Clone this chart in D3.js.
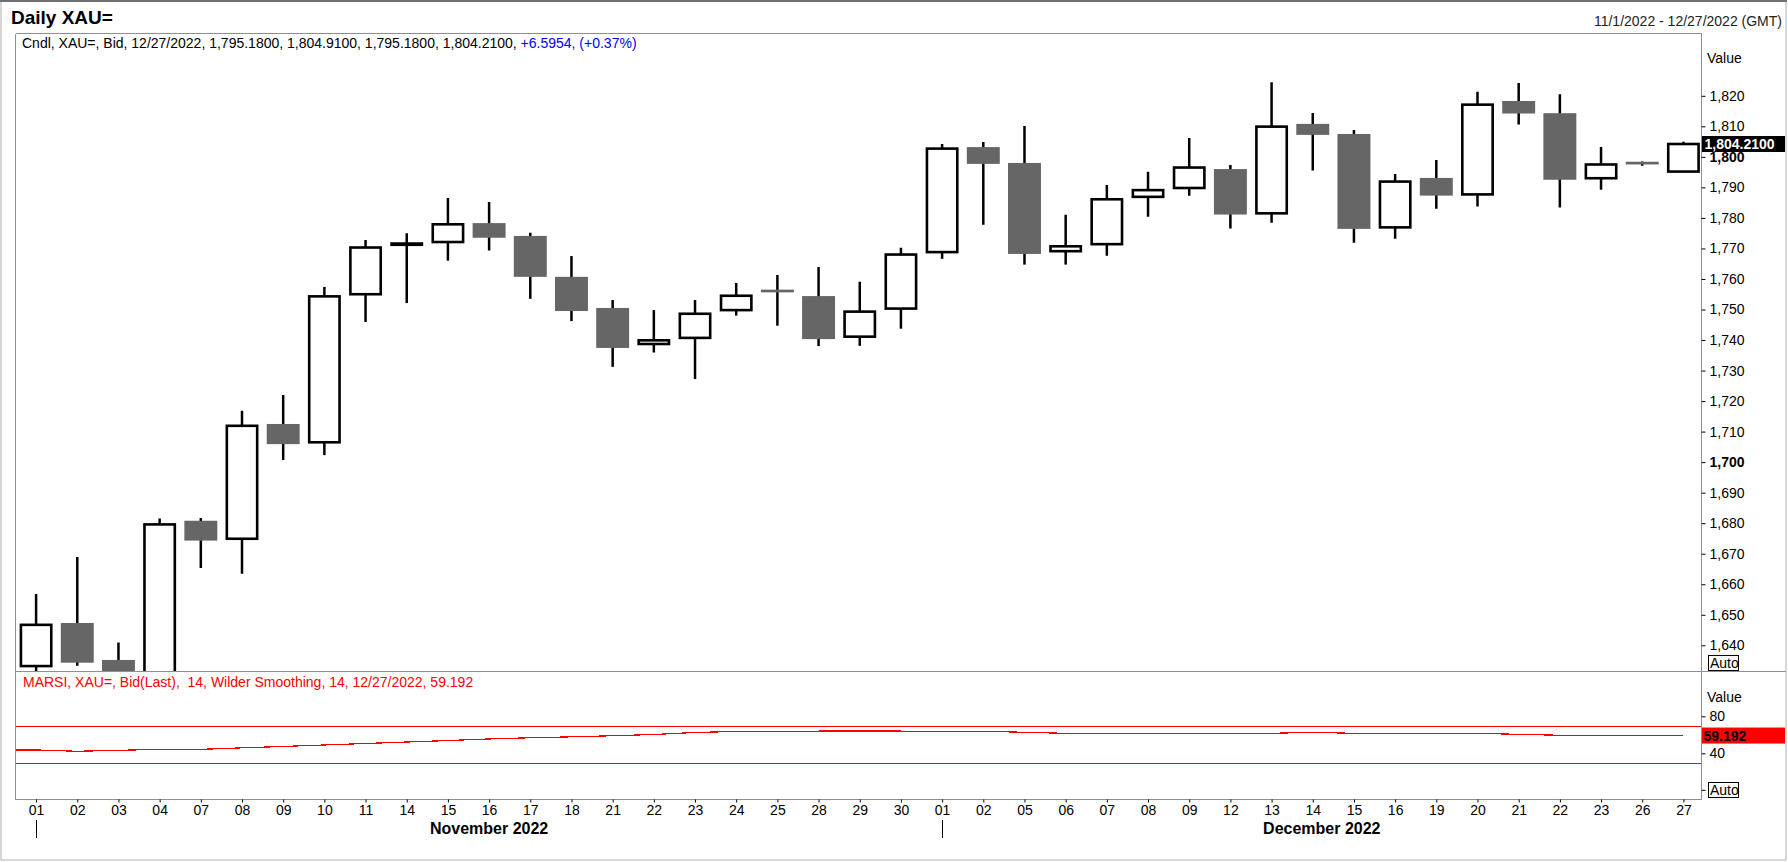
<!DOCTYPE html>
<html>
<head>
<meta charset="utf-8">
<script src="https://cdn.jsdelivr.net/npm/d3@7"></script>
<style>
  body { margin: 0; background: #fff; }
  text { font-family: "Liberation Sans", Arial, sans-serif; }
</style>
</head>
<body>
<div id="chart"></div>
<script>
// trading days shown on the chart
const dates = [
  "2022-11-01","2022-11-02","2022-11-03","2022-11-04","2022-11-07","2022-11-08","2022-11-09","2022-11-10",
  "2022-11-11","2022-11-14","2022-11-15","2022-11-16","2022-11-17","2022-11-18","2022-11-21","2022-11-22",
  "2022-11-23","2022-11-24","2022-11-25","2022-11-28","2022-11-29","2022-11-30",
  "2022-12-01","2022-12-02","2022-12-05","2022-12-06","2022-12-07","2022-12-08","2022-12-09","2022-12-12",
  "2022-12-13","2022-12-14","2022-12-15","2022-12-16","2022-12-19","2022-12-20","2022-12-21","2022-12-22",
  "2022-12-23","2022-12-26","2022-12-27"
];
const opens = [
  1633.2, 1647.3, 1635.2, 1629.8, 1680.8, 1674.9, 1712.5, 1706.5, 1755.0, 1771.2, 1772.1,
  1778.3, 1774.1, 1760.7, 1750.5, 1738.7, 1740.7, 1749.8, 1756.5, 1754.4, 1741.1, 1750.3,
  1768.8, 1803.2, 1798.0, 1769.1, 1771.4, 1786.9, 1789.8, 1796.0, 1781.5, 1810.8, 1807.5,
  1776.9, 1793.1, 1787.7, 1818.3, 1814.3, 1793.0, 1798.4, 1795.18
];
const highs = [
  1656.8, 1668.9, 1640.9, 1681.5, 1681.7, 1716.8, 1722.0, 1757.4, 1772.8, 1775.0, 1786.5,
  1785.2, 1775.1, 1767.5, 1753.1, 1749.8, 1753.1, 1758.7, 1761.3, 1763.9, 1759.1, 1770.2,
  1804.2, 1804.9, 1810.1, 1781.0, 1790.8, 1795.1, 1806.2, 1797.3, 1824.4, 1814.4, 1808.8,
  1794.4, 1799.0, 1821.3, 1824.2, 1820.5, 1803.2, 1798.5, 1804.91
];
const lows = [
  1630.0, 1633.3, 1616.7, 1627.6, 1665.3, 1663.4, 1700.7, 1702.3, 1745.9, 1752.1, 1766.0,
  1769.3, 1753.5, 1746.2, 1731.2, 1735.9, 1727.2, 1748.0, 1744.7, 1738.0, 1738.1, 1743.7,
  1766.6, 1777.8, 1764.7, 1764.7, 1767.6, 1780.4, 1787.3, 1776.5, 1778.4, 1795.5, 1771.9,
  1773.2, 1783.0, 1783.7, 1810.6, 1783.4, 1789.2, 1797.1, 1795.18
];
const closes = [
  1646.7, 1634.3, 1629.7, 1679.6, 1674.3, 1711.9, 1705.9, 1754.3, 1770.3, 1771.6, 1777.9,
  1773.5, 1760.7, 1749.5, 1737.4, 1739.9, 1748.6, 1754.5, 1756.1, 1740.3, 1749.3, 1768.0,
  1802.7, 1797.7, 1768.2, 1770.7, 1786.1, 1789.1, 1796.5, 1781.1, 1809.9, 1807.2, 1776.4,
  1791.9, 1787.3, 1817.1, 1814.2, 1792.5, 1797.5, 1798.1, 1804.21
];
// RSI, first value is 10/31 (the session just before the window)
const rsiValues = [
  43.6,
  43.6, 42.2, 43.2, 44.3, 44.3, 45.9, 47.4, 49.0, 50.6, 52.2, 53.8,
  55.5, 56.8, 57.8, 59.0, 60.3, 62.5, 63.6, 63.9, 64.0, 64.1, 64.0,
  63.9, 63.8, 62.7, 61.6, 61.6, 61.6, 61.6, 61.7, 61.6, 62.7, 61.6,
  61.5, 61.6, 61.6, 60.5, 59.5, 59.4, 59.4, 59.192
];
const rsiBands = [70, 30];
const priceTicks = [1640, 1650, 1660, 1670, 1680, 1690, 1700, 1710, 1720, 1730, 1740,
                    1750, 1760, 1770, 1780, 1790, 1800, 1810, 1820];
const rsiTicks = [80, 40];
const lastPrice = 1804.21;
const lastRsi = 59.192;

const width = 1788, height = 862;
const plot = { left: 15.5, top: 33.5, right: 1701.5, split: 671.5, bottom: 799.5 };
const frameColor = "#8e8e9a";

const svg = d3.select("#chart").append("svg")
  .attr("width", width)
  .attr("height", height);

const parse = d3.timeParse("%Y-%m-%d");
const days = dates.map(parse);

// index based x scale so the RSI can start one session earlier
const x = d3.scaleLinear()
  .domain([-0.5, dates.length - 0.5])
  .range([plot.left, plot.right + 2.5]);
const step = x(1) - x(0);
const bodyW = step * 0.8;

const y = d3.scaleLinear().domain([1640, 1820]).range([645.3, 95.8]);
const yR = d3.scaleLinear().domain([0, 80]).range([790.3, 716.3]);

// outer border
svg.append("rect")
  .attr("x", 1).attr("y", 1).attr("width", 1785).attr("height", 859)
  .attr("fill", "none").attr("stroke", "#b0b0b0");
svg.append("line")
  .attr("x1", 0).attr("x2", 1787).attr("y1", 1).attr("y2", 1)
  .attr("stroke", "#707070").attr("stroke-width", 2);

// title + period
svg.append("text")
  .attr("x", 11).attr("y", 24)
  .attr("font-size", "19px").attr("font-weight", "bold")
  .text("Daily XAU=");
svg.append("text")
  .attr("x", 1782).attr("y", 26)
  .attr("text-anchor", "end")
  .attr("font-size", "14px")
  .attr("fill", "#222")
  .text("11/1/2022 - 12/27/2022 (GMT)");

// clip paths
const defs = svg.append("defs");
defs.append("clipPath").attr("id", "clipMain").append("rect")
  .attr("x", plot.left).attr("y", plot.top)
  .attr("width", plot.right - plot.left).attr("height", plot.split - plot.top);
defs.append("clipPath").attr("id", "clipRsi").append("rect")
  .attr("x", plot.left).attr("y", plot.split)
  .attr("width", plot.right - plot.left).attr("height", plot.bottom - plot.split);

// candles
const candles = d3.range(dates.length).map(i => ({
  i: i, o: opens[i], h: highs[i], l: lows[i], c: closes[i]
}));

const main = svg.append("g").attr("clip-path", "url(#clipMain)");

main.selectAll(".wick")
  .data(candles)
  .enter()
  .append("line")
  .attr("x1", d => x(d.i)).attr("x2", d => x(d.i))
  .attr("y1", d => y(d.h)).attr("y2", d => y(d.l))
  .attr("stroke", "#000")
  .attr("stroke-width", 2.5);

// down days: solid grey body
main.selectAll(".down")
  .data(candles.filter(d => d.c < d.o))
  .enter()
  .append("rect")
  .attr("x", d => x(d.i) - bodyW / 2)
  .attr("width", bodyW)
  .attr("y", d => y(d.o))
  .attr("height", d => Math.max(2.7, y(d.c) - y(d.o)))
  .attr("fill", "#666666");

// up days: hollow body
const sw = 2.6;
main.selectAll(".up")
  .data(candles.filter(d => d.c >= d.o))
  .enter()
  .append("rect")
  .attr("x", d => x(d.i) - bodyW / 2 + sw / 2)
  .attr("width", bodyW - sw)
  .attr("y", d => y(d.c))
  .attr("height", d => y(d.o) - y(d.c))
  .attr("fill", "#fff")
  .attr("stroke", "#000")
  .attr("stroke-width", sw);

// RSI pane
const rsi = svg.append("g").attr("clip-path", "url(#clipRsi)");
rsi.selectAll(".band")
  .data(rsiBands)
  .enter()
  .append("line")
  .attr("x1", plot.left).attr("x2", plot.right)
  .attr("y1", d => Math.round(yR(d)) + 0.5).attr("y2", d => Math.round(yR(d)) + 0.5)
  .attr("stroke", "#ff0000")
  .attr("stroke-width", 1.2);

const rsiLine = d3.line()
  .x((d, i) => x(i - 1))
  .y(d => yR(d));
rsi.append("path")
  .datum(rsiValues)
  .attr("d", rsiLine)
  .attr("fill", "none")
  .attr("stroke", "#ff0000")
  .attr("stroke-width", 1.2)
  .attr("shape-rendering", "crispEdges");

// frame
const frame = svg.append("g")
  .attr("stroke", frameColor)
  .attr("shape-rendering", "crispEdges");
frame.append("line").attr("x1", plot.left).attr("x2", plot.right).attr("y1", plot.top).attr("y2", plot.top);
frame.append("line").attr("x1", plot.left).attr("x2", plot.left).attr("y1", plot.top).attr("y2", plot.bottom);
frame.append("line").attr("x1", plot.right).attr("x2", plot.right).attr("y1", plot.top).attr("y2", plot.bottom);
frame.append("line").attr("x1", plot.left).attr("x2", plot.right).attr("y1", plot.bottom).attr("y2", plot.bottom);
frame.append("line").attr("x1", plot.left).attr("x2", 1786).attr("y1", plot.split).attr("y2", plot.split);

// legends
const legend = svg.append("text")
  .attr("x", 22).attr("y", 48)
  .attr("font-size", "14px");
legend.append("tspan").attr("fill", "#000")
  .text("Cndl, XAU=, Bid, 12/27/2022, 1,795.1800, 1,804.9100, 1,795.1800, 1,804.2100, ");
legend.append("tspan").attr("fill", "#0000ff")
  .text("+6.5954, (+0.37%)");

svg.append("text")
  .attr("x", 23).attr("y", 687)
  .attr("font-size", "14px")
  .attr("fill", "#ff0000")
  .style("white-space", "pre")
  .text("MARSI, XAU=, Bid(Last),  14, Wilder Smoothing, 14, 12/27/2022, 59.192");

// right price axis
const fmt = d3.format(",");
const yAxis = d3.axisRight(y)
  .tickValues(priceTicks)
  .tickSize(4)
  .tickPadding(4)
  .tickFormat(fmt);
const yAxisG = svg.append("g")
  .attr("transform", `translate(${plot.right},0)`)
  .call(yAxis);
yAxisG.select(".domain").remove();
yAxisG.selectAll(".tick line").attr("stroke", "#000");
yAxisG.selectAll(".tick text")
  .attr("font-size", "14px")
  .attr("font-family", null)
  .attr("fill", "#000")
  .attr("font-weight", d => d % 100 === 0 ? "bold" : null);

svg.append("text")
  .attr("x", 1707).attr("y", 63)
  .attr("font-size", "14px")
  .text("Value");

// last price tag
svg.append("rect")
  .attr("x", plot.right + 0.5).attr("y", y(lastPrice) - 8)
  .attr("width", 83).attr("height", 16)
  .attr("fill", "#000");
svg.append("text")
  .attr("x", plot.right + 3).attr("y", y(lastPrice) + 5)
  .attr("font-size", "14px").attr("font-weight", "bold")
  .attr("fill", "#fff")
  .text(d3.format(",.4f")(lastPrice));

function autoBox(yc) {
  svg.append("rect")
    .attr("x", 1708.5).attr("y", yc - 7.5)
    .attr("width", 30).attr("height", 15)
    .attr("fill", "#fff").attr("stroke", "#000")
    .attr("shape-rendering", "crispEdges");
  svg.append("text")
    .attr("x", 1710).attr("y", yc + 5)
    .attr("font-size", "14px")
    .text("Auto");
}
autoBox(663);

// RSI axis
const rAxis = d3.axisRight(yR)
  .tickValues(rsiTicks)
  .tickSize(4)
  .tickPadding(4);
const rAxisG = svg.append("g")
  .attr("transform", `translate(${plot.right},0)`)
  .call(rAxis);
rAxisG.select(".domain").remove();
rAxisG.selectAll(".tick line").attr("stroke", "#000");
rAxisG.selectAll(".tick text")
  .attr("font-size", "14px")
  .attr("font-family", null)
  .attr("fill", "#000");
svg.append("line")
  .attr("x1", plot.right).attr("x2", plot.right + 4)
  .attr("y1", yR(0)).attr("y2", yR(0))
  .attr("stroke", "#000");
autoBox(yR(0));

svg.append("text")
  .attr("x", 1707).attr("y", 702)
  .attr("font-size", "14px")
  .text("Value");

svg.append("rect")
  .attr("x", plot.right + 0.5).attr("y", yR(lastRsi) - 8)
  .attr("width", 83).attr("height", 16)
  .attr("fill", "#ff0000");
svg.append("text")
  .attr("x", plot.right + 2).attr("y", yR(lastRsi) + 5)
  .attr("font-size", "14px").attr("font-weight", "bold")
  .attr("fill", "#000")
  .text(lastRsi);

// date axis
const dayFmt = d3.timeFormat("%d");
const xAxis = d3.axisBottom(x)
  .tickValues(d3.range(dates.length))
  .tickSize(3)
  .tickPadding(3)
  .tickFormat(i => dayFmt(days[i]));
const xAxisG = svg.append("g")
  .attr("transform", `translate(0,${plot.bottom})`)
  .call(xAxis);
xAxisG.select(".domain").remove();
xAxisG.selectAll(".tick line").attr("stroke", "#000");
xAxisG.selectAll(".tick text")
  .attr("font-size", "14px")
  .attr("font-family", null)
  .attr("fill", "#000");

// month labels
const monthFmt = d3.timeFormat("%B %Y");
const monthStarts = d3.range(dates.length).filter(i => i === 0 || days[i].getMonth() !== days[i - 1].getMonth());
monthStarts.forEach((s, k) => {
  const next = k + 1 < monthStarts.length ? x(monthStarts[k + 1]) : plot.right;
  svg.append("line")
    .attr("x1", Math.round(x(s)) + 0.5).attr("x2", Math.round(x(s)) + 0.5)
    .attr("y1", 820).attr("y2", 838)
    .attr("stroke", "#000");
  svg.append("text")
    .attr("x", (x(s) + next) / 2).attr("y", 834)
    .attr("text-anchor", "middle")
    .attr("font-size", "16px").attr("font-weight", "bold")
    .text(monthFmt(days[s]));
});
</script>
</body>
</html>
